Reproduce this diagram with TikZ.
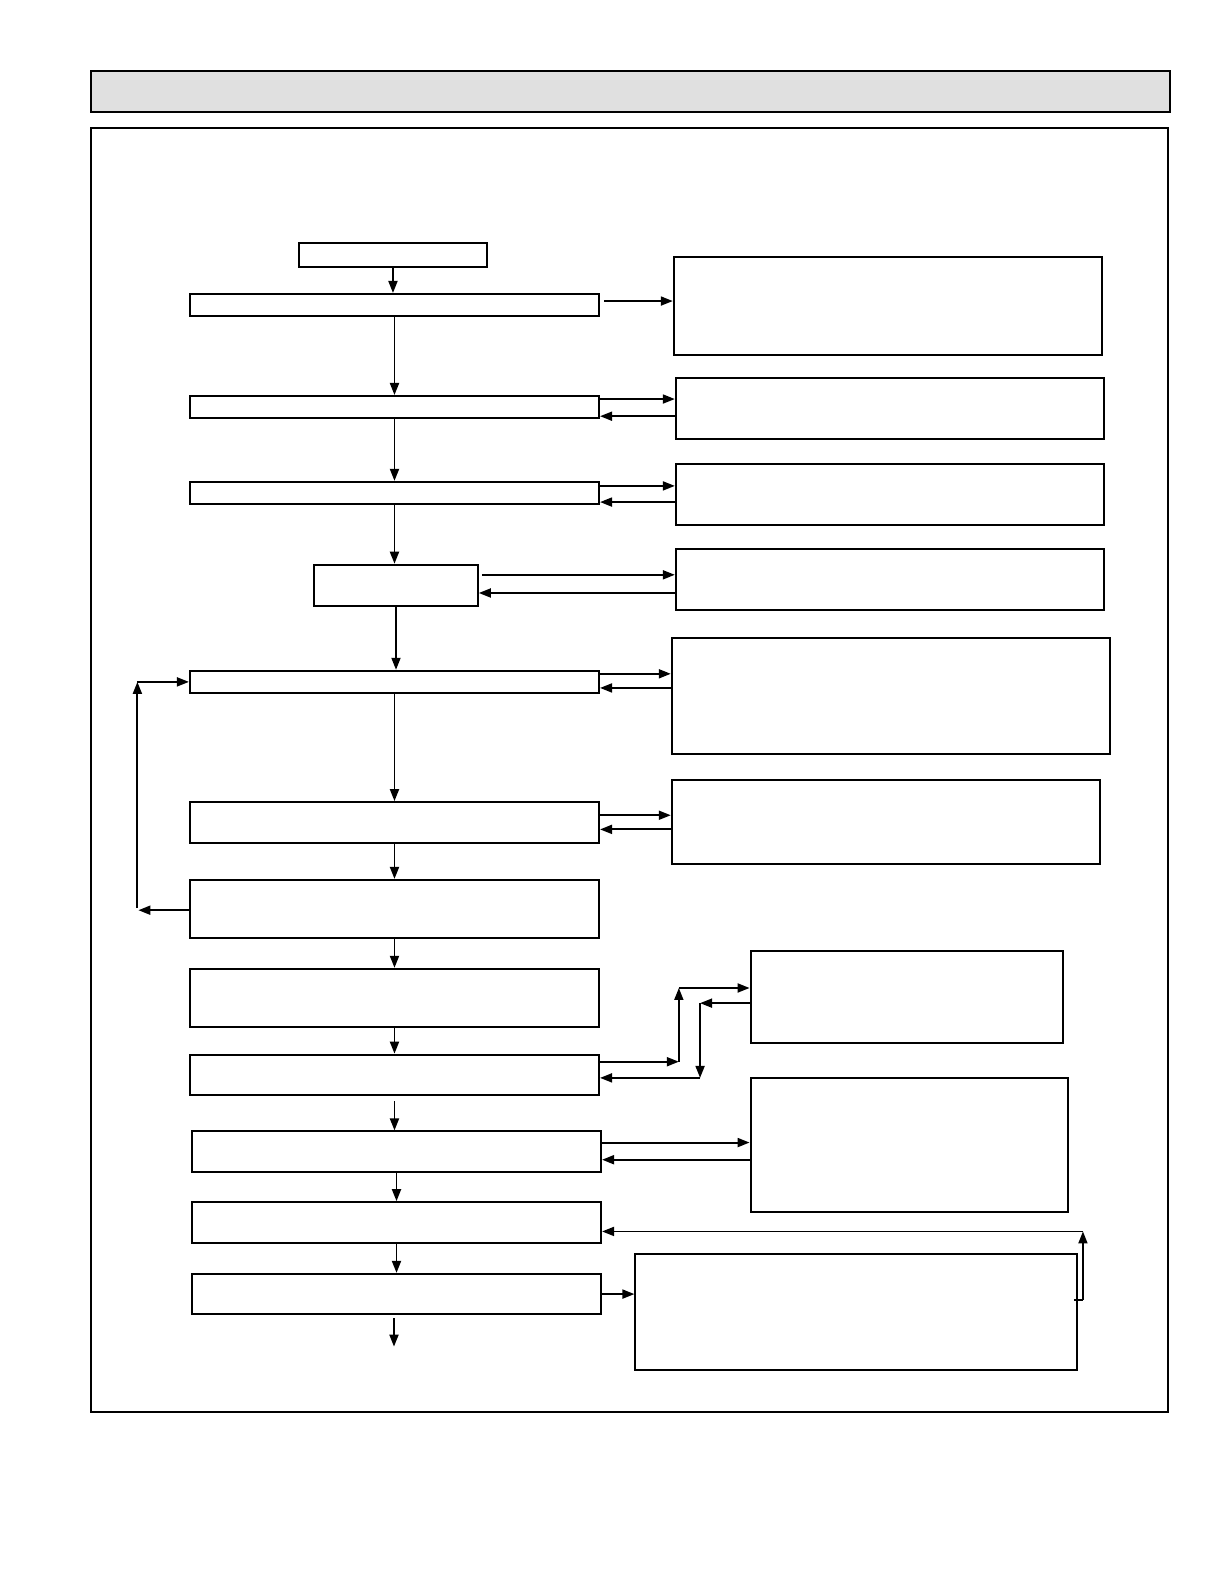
\documentclass[tikz,border=0pt]{standalone}
\usetikzlibrary{arrows.meta,fit}
\definecolor{hdr}{HTML}{E0E0E0}
\begin{document}
\begin{tikzpicture}[x=1.0099pt,y=-1.0099pt,
  box/.style={draw, line width=2pt, inner sep=0pt, fill=white},
  arr/.style={line width=1.9pt, -{Triangle[length=12pt,width=9pt]}},
  ln/.style={line width=1.9pt}]
\useasboundingbox (0,0) rectangle (1212,1568);
\fill[white] (0,0) rectangle (1212,1568);
% header and frame
\node[box, fill=hdr, line width=2.2pt, fit={(90,70) (1158,111)}] (hdr) {};
\node[box, line width=2.2pt, fit={(90,127) (1156,1398)}] (frame) {};
% left column
\node[box, fit={(296,241) (482,264)}] (S) {};
\node[box, fit={(188,291) (593,313)}] (A) {};
\node[box, fit={(188,392) (593,414)}] (B) {};
\node[box, fit={(188,477) (593,499)}] (C) {};
\node[box, fit={(311,559) (473,600)}] (D) {};
\node[box, fit={(188,664) (593,686)}] (E) {};
\node[box, fit={(188,794) (593,834)}] (F) {};
\node[box, fit={(188,871) (593,929)}] (G) {};
\node[box, fit={(188,959) (593,1017)}] (H) {};
\node[box, fit={(188,1044) (593,1084)}] (I) {};
\node[box, fit={(190,1120) (595,1160)}] (J) {};
\node[box, fit={(190,1190) (595,1230)}] (K) {};
\node[box, fit={(190,1261) (595,1301)}] (L) {};
% right column
\node[box, fit={(667,254) (1091,351)}] (R1) {};
\node[box, fit={(669,374) (1093,435)}] (R2) {};
\node[box, fit={(669,459) (1093,520)}] (R3) {};
\node[box, fit={(669,543) (1093,604)}] (R4) {};
\node[box, fit={(665,632) (1099,746)}] (R5) {};
\node[box, fit={(665,772) (1089,855)}] (R6) {};
\node[box, fit={(743,941) (1052,1032)}] (R7) {};
\node[box, fit={(743,1067) (1057,1200)}] (R8) {};
\node[box, fit={(629,1241) (1066,1356)}] (R9) {};
% main flow
\draw[arr] (S.south) -- (S.south |- A.north);
\draw[arr] (A.south) -- (B.north);
\draw[arr] (B.south) -- (C.north);
\draw[arr] (C.south) -- (C.south |- D.north);
\draw[arr] (D.south) -- (D.south |- E.north);
\draw[arr] (E.south) -- (F.north);
\draw[arr] (F.south) -- (G.north);
\draw[arr] (G.south) -- (H.north);
\draw[arr] (H.south) -- (I.north);
\draw[arr, shorten <=5pt] (I.south) -- (I.south |- J.north);
\draw[arr] (J.south) -- (K.north);
\draw[arr] (K.south) -- (L.north);
\coordinate (out) at (390,1333);
\draw[arr, shorten <=3pt] (out |- L.south) -- (out);
% side connections
\draw[arr, shorten <=4pt] (A.east |- 0,298) -- (R1.west |- 0,298);
\draw[arr] (B.east |- 0,395) -- (R2.west |- 0,395);
\draw[arr] (R2.west |- 0,412) -- (B.east |- 0,412);
\draw[arr] (C.east |- 0,481) -- (R3.west |- 0,481);
\draw[arr] (R3.west |- 0,497) -- (C.east |- 0,497);
\draw[arr, shorten <=3pt] (D.east |- 0,569) -- (R4.west |- 0,569);
\draw[arr] (R4.west |- 0,587) -- (D.east |- 0,587);
\draw[arr] (E.east |- 0,667) -- (R5.west |- 0,667);
\draw[arr] (R5.west |- 0,681) -- (E.east |- 0,681);
\draw[arr] (F.east |- 0,807) -- (R6.west |- 0,807);
\draw[arr] (R6.west |- 0,821) -- (F.east |- 0,821);
% loop back G -> E
\coordinate (gl) at (137,901);
\coordinate (gb) at (136,899);
\coordinate (el) at (136,675);
\draw[arr] (G.west |- gl) -- (gl);
\draw[arr] (gb) -- (el);
\draw[arr] (el) -- (E.west |- el);
% I <-> R7
\coordinate (i1) at (672,1051);
\coordinate (i2) at (672,978);
\coordinate (i3) at (693,993);
\coordinate (i4) at (693,1067);
\draw[arr] (I.east |- i1) -- (i1);
\draw[arr] (i1) -- (i2);
\draw[arr] (i2) -- (R7.west |- i2);
\draw[arr] (R7.west |- i3) -- (i3);
\draw[arr] (i3) -- (i4);
\draw[arr] (i4) -- (I.east |- i4);
% J <-> R8
\draw[arr] (J.east |- 0,1131) -- (R8.west |- 0,1131);
\draw[arr] (R8.west |- 0,1148) -- (J.east |- 0,1148);
% L -> R9
\draw[arr] (L.east |- 0,1281) -- (R9.west |- 0,1281);
% R9 -> K
\coordinate (k0) at (1063,1287);
\coordinate (k1) at (1072,1287);
\coordinate (k2) at (1072,1219);
\draw[ln] (k0) -- (k1);
\draw[arr] (k1) -- (k2);
\draw[arr] (k2) -- (K.east |- k2);
\end{tikzpicture}
\end{document}
